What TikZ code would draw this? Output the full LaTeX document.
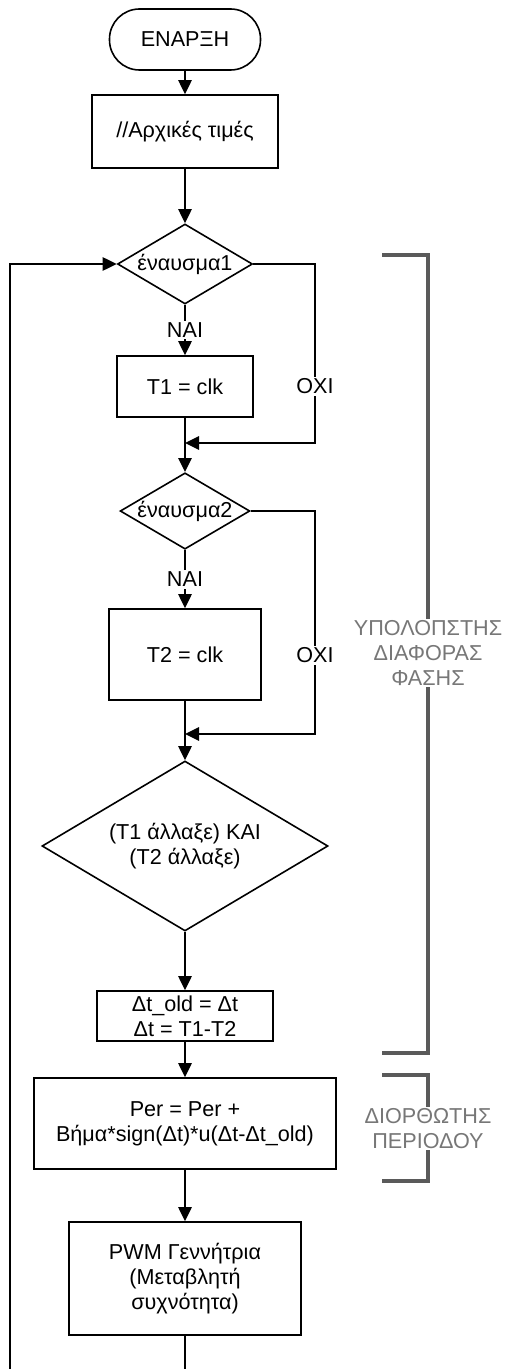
\documentclass[tikz,border=0pt]{standalone}
\usepackage{fontspec}
\setmainfont{Liberation Sans}
\usepackage{tikz}
\usepackage{xcolor}
\usetikzlibrary{shapes,arrows.meta,positioning}
\definecolor{brk}{HTML}{5a5a5a}
\definecolor{brktxt}{HTML}{777777}
\tikzset{
  box/.style={draw,line width=1.2pt,align=center,inner sep=0pt},
  dec/.style={draw,diamond,line width=1.2pt,align=center,inner sep=0pt,aspect=1.7},
  flow/.style={line width=1.2pt,-{Triangle[length=10.5pt,width=10pt]}},
  lbl/.style={fill=white,inner sep=1.5pt},
  brace/.style={draw=brk,line width=2.3pt},
  note/.style={fill=white,text=brktxt,align=center,inner sep=1pt}
}

\begin{document}
\begin{tikzpicture}[x=0.75pt,y=-0.75pt,font=\fontsize{16.2}{18.75}\selectfont]
\useasboundingbox (0,0) rectangle (505,1369);
\node[box,rounded corners=22.5pt,minimum width=113.25pt,minimum height=45.75pt] (start) at (185,39.5) {ΕΝΑΡΞΗ};
\node[box,minimum width=139.5pt,minimum height=54.75pt] (init) at (185,131.5) {//Αρχικές τιμές};
\node[dec,minimum width=101.25pt,minimum height=60pt] (dec1) at (185,264) {έναυσμα1};
\node[box,minimum width=102pt,minimum height=45.75pt] (t1) at (185,386.5) {T1 = clk};
\node[dec,minimum width=95.25pt,minimum height=57pt] (dec2) at (185,511) {έναυσμα2};
\node[box,minimum width=114pt,minimum height=68.25pt] (t2) at (185,654.5) {T2 = clk};
\node[dec,minimum width=214.5pt,minimum height=127.5pt] (dec3) at (185,846) {(T1 άλλαξε) ΚΑΙ\\(T2 άλλαξε)};
\node[box,minimum width=132pt,minimum height=37.5pt] (dt) at (185,1016) {Δt\_old = Δt\\Δt = T1-T2};
\node[box,minimum width=226.5pt,minimum height=68.25pt] (per) at (185,1123.5) {Per = Per +\\Βήμα*sign(Δt)*u(Δt-Δt\_old)};
\node[box,minimum width=174pt,minimum height=84.75pt] (pwm) at (185,1278.5) {PWM Γεννήτρια\\(Μεταβλητή\\συχνότητα)};

\coordinate (m1) at (185,443);
\coordinate (r1) at (315,443);
\coordinate (m2) at (185,734);
\coordinate (r2) at (315,734);
\coordinate (b1) at (185,1369);
\coordinate (b2) at (10,1369);

\draw[flow] (start) -- (init);
\draw[flow] (init) -- (dec1);
\draw[flow] (dec1) -- node[lbl] (yes1) {ΝΑΙ} (t1);
\draw[flow] (t1) -- (dec2);
\draw[flow] (dec1.east) -| (r1) -- (m1);
\node[lbl] (no1) at (315,386.5) {ΟΧΙ};
\draw[flow] (dec2) -- node[lbl] (yes2) {ΝΑΙ} (t2);
\draw[flow] (t2) -- (dec3);
\draw[flow] (dec2.east) -| (r2) -- (m2);
\node[lbl] (no2) at (315,655.5) {ΟΧΙ};
\draw[flow] (dec3) -- (dt);
\draw[flow] (dt) -- (per);
\draw[flow] (per) -- (pwm);
\draw[line width=1.2pt] (pwm) -- (b1);
\draw[flow] (b2) |- (dec1.west);

\draw[brace] (382,255) -- (428,255) -- (428,1053) -- (382,1053);
\node[note] (phase) at (428,653) {ΥΠΟΛΟΠΣΤΗΣ\\ΔΙΑΦΟΡΑΣ\\ΦΑΣΗΣ};
\draw[brace] (382,1075) -- (428,1075) -- (428,1181) -- (382,1181);
\node[note] (corr) at (428,1128.5) {ΔΙΟΡΘΩΤΗΣ\\ΠΕΡΙΟΔΟΥ};
\end{tikzpicture}
\end{document}
